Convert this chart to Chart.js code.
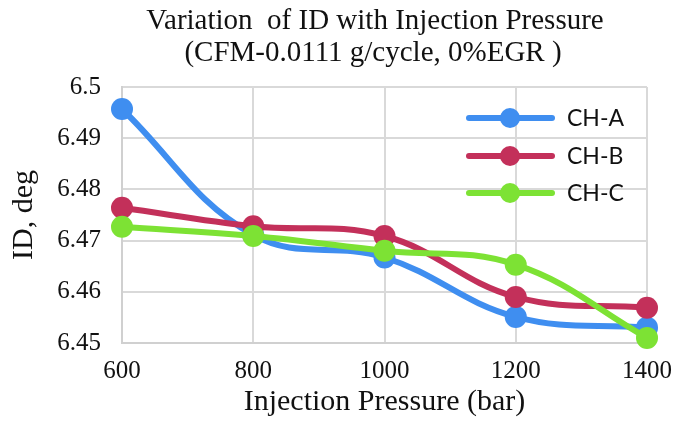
<!DOCTYPE html>
<html>
<head>
<meta charset="utf-8">
<script src="https://cdn.jsdelivr.net/npm/chart.js@4.4.1/dist/chart.umd.min.js"></script>
<style>
  html, body { margin: 0; padding: 0; background: #fff; }
  #wrap { width: 685px; height: 436px; }
</style>
</head>
<body>
<div id="wrap"><canvas id="idChart" width="685" height="436"></canvas></div>
<script>
// data
const pressures = [600, 800, 1000, 1200, 1400];
const chA = [6.4957, 6.4711, 6.4667, 6.4551, 6.4530];
const chB = [6.4764, 6.4728, 6.4709, 6.4590, 6.4569];
const chC = [6.4727, 6.4709, 6.4680, 6.4653, 6.4510];
const seriesNames = ['CH-A', 'CH-B', 'CH-C'];
const seriesColors = ['#3f8ef0', '#c3305a', '#7de234'];
const yTicks = [6.45, 6.46, 6.47, 6.48, 6.49, 6.5];
const titleLines = ['Variation  of ID with Injection Pressure', '(CFM-0.0111 g/cycle, 0%EGR )'];

const serif = '"Liberation Serif", "DejaVu Serif", serif';
Chart.defaults.font.family = serif;
Chart.defaults.font.size = 25;
Chart.defaults.color = '#111';

function toPoints(vals) {
    return pressures.map((p, i) => ({ x: p, y: vals[i] }));
}

function makeSet(i, vals, order) {
    return {
        label: seriesNames[i],
        data: toPoints(vals),
        borderColor: seriesColors[i],
        backgroundColor: seriesColors[i],
        borderWidth: 6,
        pointRadius: 11,
        pointBorderWidth: 0,
        pointHoverRadius: 11,
        tension: 0.4,
        clip: false,
        order: order
    };
}

// title + legend (line with marker) drawn on the canvas
const extras = {
    id: 'extras',
    afterDraw(chart) {
        const ctx = chart.ctx;
        ctx.save();
        ctx.fillStyle = '#111';
        ctx.font = '29px ' + serif;
        ctx.textAlign = 'center';
        ctx.textBaseline = 'middle';
        ctx.fillText(titleLines[0], 375, 21);
        ctx.fillText(titleLines[1], 373, 53);

        const rows = [118, 156, 193];
        ctx.textAlign = 'left';
        seriesNames.forEach((name, i) => {
            const y = rows[i];
            ctx.strokeStyle = seriesColors[i];
            ctx.lineWidth = 6;
            ctx.lineCap = 'round';
            ctx.beginPath();
            ctx.moveTo(469, y);
            ctx.lineTo(552, y);
            ctx.stroke();
            ctx.fillStyle = seriesColors[i];
            ctx.beginPath();
            ctx.arc(510, y, 10, 0, Math.PI * 2);
            ctx.fill();
            ctx.fillStyle = '#111';
            ctx.font = '23px Lato, "Open Sans", sans-serif';
            ctx.fillText(name, 567, y + 1);
        });
        ctx.restore();
    }
};

new Chart(document.getElementById('idChart'), {
    type: 'line',
    data: {
        datasets: [makeSet(0, chA, 2), makeSet(1, chB, 1), makeSet(2, chC, 0)]
    },
    options: {
        responsive: false,
        animation: false,
        layout: { padding: { left: 0, right: 27, top: 87, bottom: 0 } },
        plugins: {
            legend: { display: false },
            tooltip: { enabled: false },
            title: { display: false }
        },
        scales: {
            x: {
                type: 'linear',
                min: 600,
                max: 1400,
                afterBuildTicks(axis) {
                    axis.ticks = pressures.map(v => ({ value: v }));
                },
                afterFit(axis) { axis.height = 93; },
                grid: { color: '#d9d9d9', lineWidth: 2, drawTicks: false },
                border: { color: '#d0d0d0', width: 2 },
                ticks: {
                    color: '#111',
                    padding: 13,
                    maxRotation: 0,
                    font: { family: serif, size: 25 },
                    callback: v => String(v)
                },
                title: {
                    display: true,
                    text: 'Injection Pressure (bar)',
                    color: '#111',
                    font: { family: serif, size: 30 },
                    padding: { top: 4, bottom: 16 }
                }
            },
            y: {
                min: 6.45,
                max: 6.5,
                afterBuildTicks(axis) {
                    axis.ticks = yTicks.map(v => ({ value: v }));
                },
                afterFit(axis) { axis.width = 122; },
                grid: { color: '#d9d9d9', lineWidth: 2, drawTicks: false },
                border: { color: '#d0d0d0', width: 2 },
                ticks: {
                    color: '#111',
                    padding: 21,
                    font: { family: serif, size: 25 },
                    callback: v => String(Math.round(v * 100) / 100)
                },
                title: {
                    display: true,
                    text: 'ID, deg',
                    color: '#111',
                    font: { family: serif, size: 30 },
                    padding: { top: 6, bottom: 0 }
                }
            }
        }
    },
    plugins: [extras]
});
</script>
</body>
</html>
